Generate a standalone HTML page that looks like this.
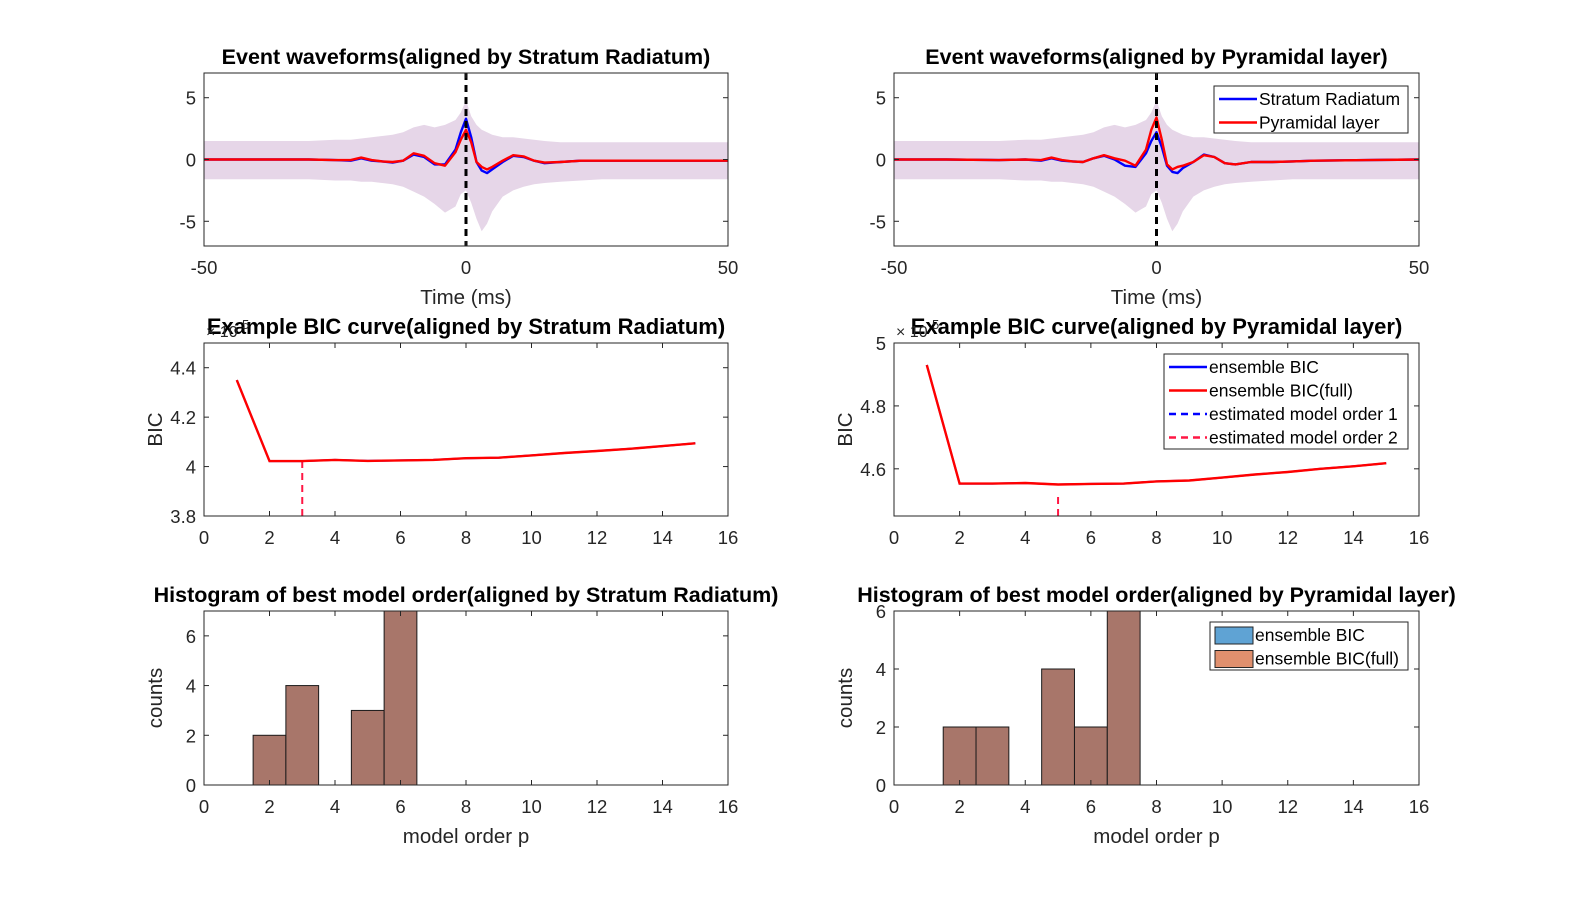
<!DOCTYPE html>
<html><head><meta charset="utf-8"><style>
html,body{margin:0;padding:0;background:#fff;}
svg{display:block;font-family:"Liberation Sans",Arial,sans-serif;}
</style></head><body>
<svg id="fig" width="1584" height="906" viewBox="0 0 1584 906"></svg>
<script>
// ---- data ----
const waveT = [-50,-40,-30,-25,-22,-20,-18,-16,-14,-12,-10,-8,-6,-4,-2,-1,0,1,2,3,4,5,7,9,11,13,15,18,22,26,30,40,50];
const waveSR_L = [0,0,0,-0.05,-0.1,0.1,-0.1,-0.15,-0.25,-0.1,0.4,0.2,-0.4,-0.4,0.8,2.2,3.3,1.8,-0.2,-0.9,-1.1,-0.8,-0.2,0.3,0.2,-0.1,-0.3,-0.2,-0.1,-0.1,-0.1,-0.1,-0.1];
const wavePY_L = [0,0,0,-0.05,-0.05,0.15,-0.05,-0.15,-0.2,-0.1,0.5,0.3,-0.3,-0.5,0.6,1.6,2.4,1.4,-0.2,-0.6,-0.8,-0.6,-0.1,0.35,0.25,-0.1,-0.25,-0.2,-0.1,-0.1,-0.1,-0.1,-0.1];
const waveSR_R = [0,0,-0.05,0,-0.1,0.1,-0.1,-0.15,-0.2,0.1,0.3,0,-0.5,-0.6,0.5,1.5,2.2,1.0,-0.5,-1.0,-1.1,-0.7,-0.2,0.4,0.2,-0.3,-0.4,-0.2,-0.2,-0.15,-0.1,-0.05,0];
const wavePY_R = [0,0,-0.05,0,-0.05,0.15,-0.05,-0.15,-0.2,0.1,0.35,0.1,-0.1,-0.5,0.8,2.4,3.4,1.6,-0.4,-0.8,-0.6,-0.5,-0.2,0.35,0.2,-0.3,-0.4,-0.2,-0.2,-0.15,-0.1,-0.05,0];
const bandUp = [1.5,1.5,1.5,1.6,1.6,1.7,1.8,1.9,2.0,2.2,2.6,2.8,2.6,2.8,3.2,3.8,4.8,3.5,2.8,2.4,2.2,2.0,1.8,1.8,1.7,1.6,1.5,1.4,1.4,1.4,1.4,1.4,1.4];
const bandLo = [-1.6,-1.6,-1.6,-1.7,-1.7,-1.8,-1.8,-1.9,-2.0,-2.2,-2.6,-3.0,-3.6,-4.3,-3.8,-2.8,-2.5,-3.5,-4.8,-5.8,-5.2,-4.2,-3.0,-2.5,-2.2,-2.0,-1.9,-1.8,-1.7,-1.6,-1.6,-1.6,-1.6];
const bicP = [1,2,3,4,5,6,7,8,9,10,11,12,13,14,15];
const bicL = [4.35,4.022,4.022,4.027,4.023,4.025,4.027,4.034,4.036,4.045,4.055,4.063,4.072,4.083,4.094];
const bicR = [4.93,4.553,4.553,4.555,4.55,4.552,4.553,4.56,4.563,4.572,4.582,4.59,4.6,4.608,4.618];
const bestL = 3, bestR = 5;
const bestTopL = 4.022, bestTopR = 4.512;
const histBins = [1,2,3,4,5,6,7,8,9,10,11,12,13,14,15];
const histL = [0,2,4,0,3,7,0,0,0,0,0,0,0,0,0];
const histR = [0,2,2,0,4,2,6,0,0,0,0,0,0,0,0];

const NS='http://www.w3.org/2000/svg';
const svg=document.getElementById('fig');
function el(tag,attrs,parent,text){const e=document.createElementNS(NS,tag);for(const k in attrs)e.setAttribute(k,attrs[k]);if(text!==undefined)e.textContent=text;(parent||svg).appendChild(e);return e;}

function axes(o){
  const g=el('g',{});
  
  
  const sx=v=>o.x0+(v-o.xmin)/(o.xmax-o.xmin)*(o.x1-o.x0);
  const sy=v=>o.y1-(v-o.ymin)/(o.ymax-o.ymin)*(o.y1-o.y0);
  const content=el('g',{},g);
  o.draw(content,sx,sy);
  el('rect',{x:o.x0,y:o.y0,width:o.x1-o.x0,height:o.y1-o.y0,fill:'none',stroke:'#262626','stroke-width':1},g);
  o.xticks.forEach(v=>{const x=sx(v);
    el('line',{x1:x,x2:x,y1:o.y1,y2:o.y1-5,stroke:'#262626'},g);
    el('line',{x1:x,x2:x,y1:o.y0,y2:o.y0+5,stroke:'#262626'},g);
    const t=el('text',{x:x,y:o.y1+28,'text-anchor':'middle','font-size':18.5,fill:'#262626'},g,String(v));
    });
  o.yticks.forEach((v,i)=>{const y=sy(v);
    el('line',{x1:o.x0,x2:o.x0+5,y1:y,y2:y,stroke:'#262626'},g);
    el('line',{x1:o.x1,x2:o.x1-5,y1:y,y2:y,stroke:'#262626'},g);
    const t=el('text',{x:o.x0-8,y:y+7,'text-anchor':'end','font-size':18.5,fill:'#262626'},g,o.ylab?o.ylab[i]:String(v));
    });
  const tt=el('text',{x:(o.x0+o.x1)/2,y:o.y0-9,'text-anchor':'middle','font-size':o.tfs||21.5,'font-weight':'bold',fill:'#000'},g,o.title);
  
  if(o.xlabel){const t=el('text',{x:(o.x0+o.x1)/2,y:o.y1+58,'text-anchor':'middle','font-size':20.5,fill:'#262626'},g,o.xlabel);}
  if(o.ylabel){const cx=o.x0-42,cy=(o.y0+o.y1)/2;const t=el('text',{x:cx,y:cy,'text-anchor':'middle','font-size':20.5,fill:'#262626',transform:`rotate(-90 ${cx} ${cy})`},g,o.ylabel);}
  if(o.exp){const t=el('text',{x:o.x0+2,y:o.y0-6,'font-size':16,fill:'#262626'},g,'× 10');el('text',{x:o.x0+38,y:o.y0-14,'font-size':13,fill:'#262626'},g,'5');}
  if(o.legend) o.legend(g);
  return g;
}
function path(xs,ys,sx,sy){return xs.map((x,i)=>(i?'L':'M')+sx(x).toFixed(1)+','+sy(ys[i]).toFixed(1)).join(' ');}

function waveDraw(sr,py){return (g,sx,sy)=>{
  const up=path(waveT,bandUp,sx,sy);
  const lo=waveT.slice().reverse().map((x,i)=>'L'+sx(x).toFixed(1)+','+sy(bandLo[bandLo.length-1-i]).toFixed(1)).join(' ');
  const b=el('path',{d:up+' '+lo+' Z',fill:'#e6d6e8'},g);
  
  const l1=el('path',{d:path(waveT,sr,sx,sy),fill:'none',stroke:'#0000ff','stroke-width':2.4,'stroke-linejoin':'round'},g);
  
  const l2=el('path',{d:path(waveT,py,sx,sy),fill:'none',stroke:'#ff0000','stroke-width':2.4,'stroke-linejoin':'round'},g);
  
  const d=el('line',{x1:sx(0),x2:sx(0),y1:sy(7),y2:sy(-7),stroke:'#000','stroke-width':3,'stroke-dasharray':'7,5'},g);
  
};}
function bicDraw(vals,best,top,ymin){return (g,sx,sy)=>{
  const d=el('line',{x1:sx(best),x2:sx(best),y1:sy(ymin),y2:sy(top),stroke:'#ff1744','stroke-width':2,'stroke-dasharray':'7,5'},g);
  
  const l1=el('path',{d:path(bicP,vals,sx,sy),fill:'none',stroke:'#0000ff','stroke-width':2},g);
  
  const l2=el('path',{d:path(bicP,vals,sx,sy),fill:'none',stroke:'#ff0000','stroke-width':2.4},g);
  
};}
function histDraw(vals,ymax){return (g,sx,sy)=>{
  histBins.forEach((b,i)=>{if(!vals[i])return;
    const v=Math.min(vals[i],ymax);
    const r=el('rect',{x:sx(b-0.5),y:sy(v),width:sx(b+0.5)-sx(b-0.5),height:sy(0)-sy(v),fill:'#a8766a',stroke:'#1a1a1a','stroke-width':1},g);
    });
};}
function lineLegend(x,y,w,h,items){return g=>{
  const lg=el('g',{},g);
  
  el('rect',{x:x,y:y,width:w,height:h,fill:'#fff',stroke:'#262626'},lg);
  items.forEach((it,i)=>{const yy=y+13+i*23.5;
    if(it.box){el('rect',{x:x+5,y:yy-8,width:38,height:17,fill:it.c,stroke:'#262626'},lg);}
    else el('line',{x1:x+5,x2:x+43,y1:yy,y2:yy,stroke:it.c,'stroke-width':2.5,'stroke-dasharray':it.dash?'7,5':'none'},lg);
    const t=el('text',{x:x+45,y:yy+6,'font-size':17.5,fill:'#000'},lg,it.t);
    });
};}

const L={x0:204,x1:728}, R={x0:894,x1:1419};
axes({name:'waveform-axes-left',x0:L.x0,x1:L.x1,y0:73,y1:246,xmin:-50,xmax:50,ymin:-7,ymax:7,xticks:[-50,0,50],yticks:[-5,0,5],title:'Event waveforms(aligned by Stratum Radiatum)',xlabel:'Time (ms)',draw:waveDraw(waveSR_L,wavePY_L)});
axes({name:'waveform-axes-right',x0:R.x0,x1:R.x1,y0:73,y1:246,xmin:-50,xmax:50,ymin:-7,ymax:7,xticks:[-50,0,50],yticks:[-5,0,5],title:'Event waveforms(aligned by Pyramidal layer)',xlabel:'Time (ms)',draw:waveDraw(waveSR_R,wavePY_R),
  legend:lineLegend(1214,86,194,47,[{c:'#0000ff',t:'Stratum Radiatum'},{c:'#ff0000',t:'Pyramidal layer'}])});

axes({name:'bic-axes-left',x0:L.x0,x1:L.x1,y0:343,y1:516,xmin:0,xmax:16,ymin:3.8,ymax:4.5,xticks:[0,2,4,6,8,10,12,14,16],yticks:[3.8,4,4.2,4.4],ylab:['3.8','4','4.2','4.4'],title:'Example BIC curve(aligned by Stratum Radiatum)',tfs:22,ylabel:'BIC',exp:true,draw:bicDraw(bicL,bestL,bestTopL,3.8)});
axes({name:'bic-axes-right',x0:R.x0,x1:R.x1,y0:343,y1:516,xmin:0,xmax:16,ymin:4.45,ymax:5.0,xticks:[0,2,4,6,8,10,12,14,16],yticks:[4.6,4.8,5],ylab:['4.6','4.8','5'],title:'Example BIC curve(aligned by Pyramidal layer)',tfs:22,ylabel:'BIC',exp:true,draw:bicDraw(bicR,bestR,bestTopR,4.45),
  legend:lineLegend(1164,354,244,95,[{c:'#0000ff',t:'ensemble BIC'},{c:'#ff0000',t:'ensemble BIC(full)'},{c:'#0000ff',t:'estimated model order 1',dash:1},{c:'#ff1744',t:'estimated model order 2',dash:1}])});

axes({name:'histogram-axes-left',x0:L.x0,x1:L.x1,y0:611,y1:785,xmin:0,xmax:16,ymin:0,ymax:7,xticks:[0,2,4,6,8,10,12,14,16],yticks:[0,2,4,6],title:'Histogram of best model order(aligned by Stratum Radiatum)',xlabel:'model order p',ylabel:'counts',draw:histDraw(histL,7)});
axes({name:'histogram-axes-right',x0:R.x0,x1:R.x1,y0:611,y1:785,xmin:0,xmax:16,ymin:0,ymax:6,xticks:[0,2,4,6,8,10,12,14,16],yticks:[0,2,4,6],title:'Histogram of best model order(aligned by Pyramidal layer)',xlabel:'model order p',ylabel:'counts',draw:histDraw(histR,6),
  legend:lineLegend(1210,622,198,48,[{c:'#5fa3d4',t:'ensemble BIC',box:1},{c:'#e0906e',t:'ensemble BIC(full)',box:1}])});
</script>
</body></html>
